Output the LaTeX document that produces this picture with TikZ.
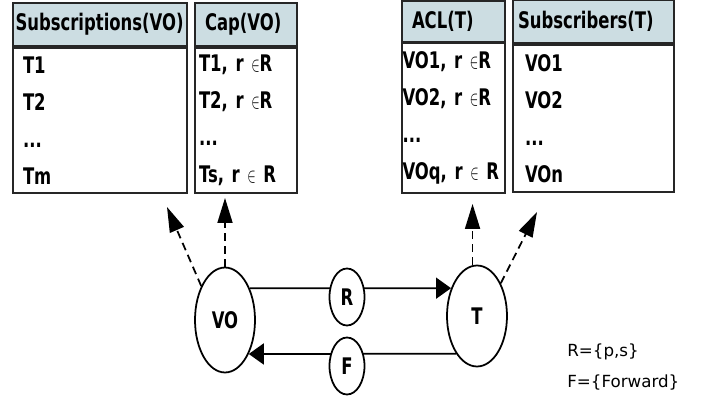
\documentclass[tikz,border=0pt]{standalone}
\usepackage{fontspec}
\setmainfont[FakeStretch=0.72]{DejaVu Sans}
\newfontfamily\legendfont{DejaVu Sans}
\usepackage{xcolor}
\usepackage{tikz}
\usetikzlibrary{shapes.geometric,arrows.meta}
\definecolor{HeadBlue}{HTML}{CCDDE2}
\newcommand{\memb}{\scalebox{0.6}[1]{$\in$}}

\begin{document}
\begin{tikzpicture}[
      x=0.02cm, y=-0.02cm,
      font=\fontsize{13}{21}\selectfont\bfseries,
      thead/.style={rectangle, draw=black!85, line width=1.1pt,
                    fill=HeadBlue, align=left, inner ysep=0pt,
                    minimum height=0.86cm},
      tbody/.style={rectangle, draw=black!85, line width=1.1pt,
                    fill=white, align=left, inner ysep=0pt,
                    minimum height=2.9cm},
      ent/.style={ellipse, draw=black, line width=1pt, fill=white,
                  inner sep=0pt, minimum width=1.2cm, minimum height=2.1cm},
      msg/.style={ellipse, draw=black, line width=1pt, fill=white,
                  inner sep=0pt, minimum width=0.7cm, minimum height=1.14cm},
      flow/.style={-{Triangle[length=0.3cm,width=0.42cm]}, line width=1pt},
      ref/.style={-{Triangle[length=0.5cm,width=0.3cm]}, line width=1pt,
                  dash pattern=on 0.16cm off 0.1cm},
    ]
      \useasboundingbox (0,0) rectangle (701,402);

      % tables of the VO
      \node[thead, inner xsep=0.05cm, text width=3.38cm] (subhd) at (100,24.5)
            {Subscriptions(VO)};
      \node[tbody, inner xsep=0.2cm, text width=3.08cm] (subbd) at (100,120.5)
            {T1\\T2\\...\\Tm};
      \node[thead, inner xsep=0.2cm, text width=1.64cm] (caphd) at (246,24.5)
            {Cap(VO)};
      \node[tbody, inner xsep=0.08cm, text width=1.88cm] (capbd) at (246,120.5)
            {T1, r \memb R\\T2, r \memb R\\...\\Ts, r \memb{} R};

      % tables of the topic
      \node[thead, inner xsep=0.2cm, text width=1.66cm,
            minimum height=0.82cm] (aclhd) at (453.5,21.5) {ACL(T)};
      \node[tbody, inner xsep=0.01cm, text width=2.04cm,
            minimum height=3.0cm] (aclbd) at (453.5,118)
            {VO1, r \memb R\\VO2, r \memb R\\...\\VOq, r \memb{} R};
      \node[thead, inner xsep=0.1cm, text width=3.02cm] (sbrhd) at (593.5,21.5)
            {Subscribers(T)};
      \node[tbody, inner xsep=0.24cm, text width=2.74cm,
            minimum height=2.94cm] (sbrbd) at (593.5,118.5)
            {VO1\\VO2\\...\\VOn};

      % entities
      \node[ent] (vo) at (225,320) {VO};
      \node[ent, minimum height=2.02cm] (t) at (477,316) {T};

      \draw[flow] (vo.52)  -- (t.133);
      \draw[flow] (t.241)  -- (vo.305);

      \node[msg] (r) at (347,297) {R};
      \node[msg] (f) at (347,366) {F};

      % links to the tables
      \coordinate (vosub) at (167,207);
      \coordinate (tsbr)  at (537,212);
      \draw[ref] (vo.125) -- (vosub);
      \draw[ref, shorten >=0.08cm] (vo.north) -- (vo.north |- capbd.south);
      \draw[ref, shorten >=0.2cm] (t.95) -- (t.95 |- aclbd.south);
      \draw[ref] (t.54) -- (tsbr);

      \node[font=\legendfont\mdseries\fontsize{9.5}{18}\selectfont,
            align=left, anchor=west, inner sep=0pt] (legend) at (567,367)
            {R=\{p,s\}\\F=\{Forward\}};
    \end{tikzpicture}
\end{document}
